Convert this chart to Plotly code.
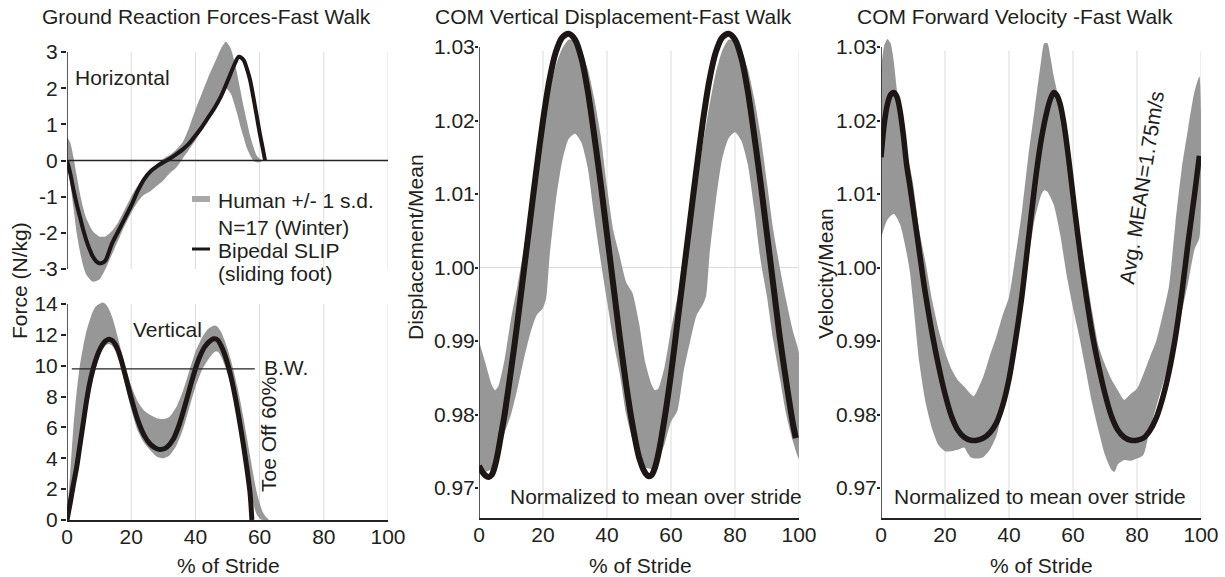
import plotly.graph_objects as go

# ---------------- data ----------------
# Horizontal GRF (N/kg) - model (Bipedal SLIP)
hgrf_pct = [0, 1, 2, 3, 4, 5, 6, 7, 8, 9, 10, 11, 12, 14, 16, 18, 20, 22, 24, 26, 28, 30, 32, 34, 36, 38,
            40, 42, 44, 46, 48, 50, 52, 53.5, 55, 56, 57, 58, 59, 60, 61, 61.7]
hgrf_model = [0, -0.35, -0.8, -1.2, -1.55, -1.9, -2.2, -2.45, -2.65, -2.78, -2.84, -2.83, -2.76, -2.3, -1.95,
              -1.6, -1.25, -0.85, -0.52, -0.3, -0.16, -0.05, 0.05, 0.17, 0.3, 0.47,
              0.69, 0.92, 1.19, 1.46, 1.78, 2.19, 2.62, 2.87, 2.78, 2.55, 2.24, 1.78, 1.28, 0.78, 0.33, 0]
# Horizontal GRF - human band (+/- 1 s.d.)
hband_pct = [0, 1, 2, 3, 4, 5, 6, 8, 10, 12, 14, 16, 18, 20, 22, 24, 26, 28, 30, 32, 34, 36, 38, 40, 42,
             44, 46, 48, 49.5, 51, 52, 53, 54, 55, 56, 57, 58, 59, 60, 61]
hband_lo = [0.0, -0.6, -1.3, -2.0, -2.5, -2.9, -3.15, -3.35, -3.3, -3.0, -2.6, -2.2, -1.8, -1.45, -1.15,
            -0.95, -0.85, -0.7, -0.55, -0.35, -0.2, 0.05, 0.3, 0.55, 0.85,
            1.15, 1.45, 1.75, 2.0, 1.85, 1.6, 1.3, 0.95, 0.65, 0.35, 0.15, 0.0, -0.05, -0.05, 0.0]
hband_hi = [0.65, 0.5, 0.1, -0.4, -0.9, -1.3, -1.6, -1.95, -2.1, -2.1, -1.95, -1.7, -1.35, -1.0, -0.7,
            -0.45, -0.25, -0.1, 0.05, 0.15, 0.3, 0.5, 0.9, 1.4, 1.85,
            2.3, 2.7, 3.1, 3.28, 3.1, 2.8, 2.4, 1.95, 1.5, 1.1, 0.7, 0.4, 0.15, 0.05, 0.0]

# Vertical GRF (N/kg) - model
vgrf_pct = [0, 1, 2, 3, 4, 5, 6, 7, 8, 9, 10, 11, 12, 13, 14, 15, 16, 17, 18, 19, 20, 22, 24, 26, 28, 29.5,
            31, 33, 35, 37, 39, 41, 43, 45, 46, 47, 48, 49, 50, 51, 52, 53, 54, 55, 56, 57, 57.6]
vgrf_model = [0, 1.1, 2.3, 3.4, 4.8, 6.2, 7.6, 8.8, 9.7, 10.4, 10.95, 11.35, 11.6, 11.72, 11.65, 11.4,
              10.95, 10.3, 9.5, 8.7, 7.9, 6.5, 5.5, 4.9, 4.62, 4.58,
              4.7, 5.2, 6.2, 7.6, 9.1, 10.4, 11.25, 11.68, 11.75, 11.65, 11.3, 10.8, 10.15, 9.35, 8.4,
              7.3, 6.1, 4.8, 3.4, 1.8, 0]
vband_pct = [0, 1, 2, 3, 4, 5, 6, 7, 8, 9, 10, 11, 12, 13, 14, 15, 16, 17, 18, 19, 20, 22, 24, 26, 28, 30,
             32, 34, 36, 38, 40, 42, 44, 46, 47, 48, 49, 50, 51, 52, 53, 54, 55, 56, 57, 58, 59, 60, 61,
             62, 63]
vband_lo = [0, 0.8, 2.0, 3.2, 4.5, 5.7, 6.9, 8.0, 9.0, 9.8, 10.5, 11.0, 11.3, 11.4, 11.3, 11.0, 10.4, 9.7,
            8.9, 8.0, 7.2, 5.8, 5.0, 4.5, 4.1, 4.0,
            4.2, 4.8, 5.8, 7.2, 8.6, 9.7, 10.4, 10.9, 10.9, 10.6, 10.1, 9.5, 8.8, 7.9, 6.9, 5.8, 4.6, 3.4,
            2.2, 1.1, 0.4, 0.1, 0, 0, 0]
vband_hi = [0, 3.0, 6.0, 8.3, 10.0, 11.2, 12.2, 12.9, 13.5, 13.85, 14.0, 14.1, 14.0, 13.7, 13.2, 12.5,
            11.7, 10.9, 10.1, 9.4, 8.7, 7.7, 7.1, 6.8, 6.6, 6.55,
            6.7, 7.3, 8.3, 9.6, 10.9, 11.8, 12.4, 12.6, 12.5, 12.2, 11.7, 11.1, 10.4, 9.6, 8.7, 7.7, 6.6,
            5.4, 4.2, 3.0, 1.9, 1.1, 0.5, 0.2, 0.0]
body_weight = 9.8

# COM vertical displacement / mean
disp_pct = [0, 1, 2, 3, 4, 5, 6, 7, 8, 10, 12, 14, 16, 18, 20, 22, 24, 26, 28, 30, 32, 34, 36, 38, 40,
            42, 44, 46, 48, 50, 52, 53, 54, 55, 56, 58, 60, 62, 64, 66, 68, 70, 72, 74, 76, 78, 80, 82,
            84, 86, 88, 90, 92, 94, 96, 98, 99]
disp_model = [0.9730, 0.9722, 0.9717, 0.9715, 0.9718, 0.9730, 0.9750, 0.9775, 0.9800, 0.9860, 0.9925,
              0.9995, 1.0065, 1.0135, 1.0200, 1.0255, 1.0293, 1.0313, 1.0318, 1.0310, 1.0285, 1.0240,
              1.0180, 1.0115, 1.0045, 0.9975, 0.9905, 0.9840, 0.9785, 0.9742, 0.9720, 0.9716, 0.9718,
              0.9728, 0.9745, 0.9795, 0.9855, 0.9925, 0.9995, 1.0065, 1.0135, 1.0200, 1.0255, 1.0293,
              1.0313, 1.0318, 1.0310, 1.0285, 1.0240, 1.0180, 1.0115, 1.0045, 0.9975, 0.9905, 0.9845,
              0.9790, 0.9768]
dband_pct = [0, 2, 4, 5, 6, 8, 10, 12, 14, 16, 18, 20, 21, 22, 24, 26, 28, 30, 32, 34, 36, 38, 40, 42, 44,
             46, 48, 50, 52, 54, 55, 56, 58, 60, 62, 64, 66, 68, 70, 71, 72, 74, 76, 78, 80, 82, 84, 86,
             88, 90, 92, 94, 96, 98, 100]
dband_lo = [0.9725, 0.9722, 0.9726, 0.9735, 0.9748, 0.9775, 0.9800, 0.9835, 0.9875, 0.9910, 0.9935,
            0.9945, 0.9958, 1.0012, 1.0090, 1.0145, 1.0175, 1.0182, 1.0170, 1.0135, 1.0070, 1.0010,
            0.9955, 0.9900, 0.9855, 0.9800, 0.9765, 0.9740, 0.9728, 0.9726, 0.9730, 0.9738, 0.9760,
            0.9790, 0.9805, 0.9860, 0.9900, 0.9935, 0.9950, 0.9962, 1.0015, 1.0090, 1.0148, 1.0176,
            1.0184, 1.0172, 1.0140, 1.0080, 1.0010, 0.9960, 0.9900, 0.9850, 0.9800, 0.9765, 0.9740]
dband_hi = [0.9900, 0.9870, 0.9840, 0.9833, 0.9838, 0.9875, 0.9930, 0.9975, 1.0025, 1.0080, 1.0140,
            1.0195, 1.0218, 1.0240, 1.0275, 1.0298, 1.0310, 1.0308, 1.0295, 1.0270, 1.0230, 1.0180,
            1.0110, 1.0050, 1.0015, 0.9980, 0.9965, 0.9925, 0.9870, 0.9840, 0.9833, 0.9835, 0.9865,
            0.9915, 0.9960, 1.0005, 1.0055, 1.0115, 1.0170, 1.0195, 1.0220, 1.0265, 1.0295, 1.0310,
            1.0308, 1.0295, 1.0270, 1.0230, 1.0180, 1.0115, 1.0050, 1.0000, 0.9955, 0.9915, 0.9883]

# COM forward velocity / mean
vel_pct = [0, 1, 2, 3, 4, 5, 6, 7, 8, 9, 10, 11, 12, 13, 14, 16, 18, 20, 22, 24, 26, 28, 30, 32, 34, 36,
           38, 40, 42, 44, 46, 48, 50, 52, 53, 54, 55, 56, 57, 58, 59, 60, 61, 62, 63, 64, 66, 68, 70,
           72, 74, 76, 78, 80, 82, 84, 86, 88, 90, 92, 94, 96, 98, 99.5]
vel_model = [1.0150, 1.0195, 1.0222, 1.0235, 1.0238, 1.0232, 1.0212, 1.0180, 1.0140, 1.0112, 1.0082,
             1.0052, 1.0021, 0.9990, 0.9961, 0.9910, 0.9866, 0.9828, 0.9798, 0.9779, 0.9769, 0.9765,
             0.9765, 0.9768, 0.9775, 0.9788, 0.9812, 0.9848, 0.9900, 0.9960, 1.0035, 1.0110, 1.0172,
             1.0215, 1.0230, 1.0238, 1.0234, 1.0222, 1.0200, 1.0170, 1.0135, 1.0098, 1.0062, 1.0028,
             0.9995, 0.9965, 0.9910, 0.9866, 0.9828, 0.9798, 0.9779, 0.9769, 0.9765, 0.9765, 0.9768,
             0.9778, 0.9795, 0.9822, 0.9858, 0.9905, 0.9965, 1.0035, 1.0100, 1.0152]
vband_up_pct = [0, 1, 2, 3, 4, 5, 6, 8, 10, 12, 14, 16, 18, 20, 22, 24, 26, 28, 29, 30, 32, 34, 36, 38,
                40, 42, 44, 46, 48, 50, 51, 52, 53, 54, 55, 56, 58, 60, 62, 64, 66, 68, 70, 72, 74, 76,
                78, 80, 82, 84, 86, 88, 90, 92, 94, 96, 98, 99.5]
vband_up = [1.0270, 1.0302, 1.0311, 1.0305, 1.0280, 1.0240, 1.0205, 1.0160, 1.0115, 1.0050, 1.0005,
            0.9955, 0.9915, 0.9885, 0.9862, 0.9847, 0.9838, 0.9828, 0.9825, 0.9832, 0.9852, 0.9880,
            0.9905, 0.9935, 0.9960, 1.0015, 1.0075, 1.0150, 1.0215, 1.0280, 1.0305, 1.0305, 1.0285,
            1.0260, 1.0240, 1.0215, 1.0165, 1.0110, 1.0050, 0.9995, 0.9940, 0.9893, 0.9868, 0.9848,
            0.9833, 0.9820, 0.9828, 0.9835, 0.9855, 0.9878, 0.9900, 0.9935, 0.9975, 1.0060, 1.0135,
            1.0190, 1.0240, 1.0260]
vband_low_pct = [0, 2, 4, 6, 8, 9, 10, 12, 14, 16, 18, 20, 22, 24, 26, 27, 28, 30, 32, 34, 36, 38, 40,
                 42, 44, 46, 48, 50, 51, 52, 54, 56, 58, 60, 62, 64, 66, 68, 70, 72, 73, 74, 76, 78, 80,
                 82, 84, 86, 88, 90, 92, 94, 96, 98, 99.5]
vband_low = [1.0040, 1.0065, 1.0073, 1.0058, 1.0020, 0.9995, 0.9955, 0.9870, 0.9815, 0.9780, 0.9758,
             0.9750, 0.9750, 0.9752, 0.9755, 0.9748, 0.9742, 0.9740, 0.9742, 0.9752, 0.9770, 0.9805,
             0.9850, 0.9900, 0.9955, 1.0010, 1.0065, 1.0098, 1.0105, 1.0103, 1.0085, 1.0045, 0.9990,
             0.9945, 0.9905, 0.9860, 0.9815, 0.9778, 0.9745, 0.9725, 0.9722, 0.9732, 0.9738, 0.9737,
             0.9740, 0.9745, 0.9780, 0.9810, 0.9840, 0.9870, 0.9900, 0.9940, 0.9980, 1.0025, 1.0040]

x_ticks = [0, 20, 40, 60, 80, 100]
grid_x = [20, 40, 60, 80, 100]
h_ticks = [-3, -2, -1, 0, 1, 2, 3]
v_ticks = [0, 2, 4, 6, 8, 10, 12, 14]
ratio_ticks = [0.97, 0.98, 0.99, 1.00, 1.01, 1.02, 1.03]

# ---------------- style ----------------
W, H = 1225, 577
FONT = "Liberation Sans, Arial, sans-serif"
TXT = "#231f20"
BAND = "#979797"
LINE = "#1c1616"
GRID = "#dcdcdc"


def px(x):
    return x / W


def py(y):
    return 1 - y / H


fig = go.Figure()


def band(xs_lo, lo, xs_hi, hi, xa, ya):
    fig.add_trace(go.Scatter(x=list(xs_hi) + list(xs_lo)[::-1], y=list(hi) + list(lo)[::-1],
                             fill="toself", fillcolor=BAND, mode="lines",
                             line=dict(width=0, color=BAND, shape="spline", smoothing=0.6),
                             xaxis=xa, yaxis=ya, hoverinfo="skip", showlegend=False))


def model(xs, ys, xa, ya, w):
    fig.add_trace(go.Scatter(x=xs, y=ys, mode="lines",
                             line=dict(width=w, color=LINE, shape="spline", smoothing=0.8),
                             xaxis=xa, yaxis=ya, hoverinfo="skip", showlegend=False))


band(hband_pct, hband_lo, hband_pct, hband_hi, "x", "y")
model(hgrf_pct, hgrf_model, "x", "y", 4)
band(vband_pct, vband_lo, vband_pct, vband_hi, "x2", "y2")
model(vgrf_pct, vgrf_model, "x2", "y2", 5)
band(dband_pct, dband_lo, dband_pct, dband_hi, "x3", "y3")
model(disp_pct, disp_model, "x3", "y3", 6)
band(vband_low_pct, vband_low, vband_up_pct, vband_up, "x4", "y4")
model(vel_pct, vel_model, "x4", "y4", 5.5)

# ---------------- axes ----------------
tickfont = dict(family=FONT, size=21, color=TXT)


def xax(dom, showlabels):
    return dict(domain=[px(dom[0]), px(dom[1])], range=[0, 100], showgrid=False, zeroline=False,
                tickmode="array", tickvals=x_ticks, ticktext=[str(t) for t in x_ticks],
                showticklabels=showlabels, ticks="", ticklabelstandoff=-3,
                tickfont=tickfont, automargin=False,
                showline=showlabels, linecolor="#222", linewidth=1.5, fixedrange=True)


def yax(top_px, bot_px, top_val, bot_val, tv, tt, anchor, tlen=4, standoff=-3):
    return dict(domain=[py(bot_px), py(top_px)], range=[bot_val, top_val], showgrid=False,
                zeroline=False, tickmode="array", tickvals=tv, ticktext=tt, ticks="outside",
                ticklen=tlen, tickwidth=1.5, tickcolor="#222", tickfont=tickfont, showline=False,
                ticklabelstandoff=standoff, anchor=anchor, fixedrange=True, automargin=False)


# pixel scales
h_per = (269 - 52) / 6.0
v_per = (520 - 304) / 14.0
r_per = (488 - 47) / 0.06

fig.update_layout(
    width=W, height=H, margin=dict(l=0, r=0, t=0, b=0, pad=0, autoexpand=False),
    paper_bgcolor="white", plot_bgcolor="rgba(0,0,0,0)", showlegend=False,
    xaxis=xax((67, 388), False),
    yaxis=yax(38, 290, 3 + (52 - 38) / h_per, -3 - (290 - 269) / h_per, h_ticks,
              [str(t) for t in h_ticks], "x", 5, -1),
    xaxis2=dict(xax((67, 388), True), anchor="y2"),
    yaxis2=yax(296, 520, 14 + (304 - 296) / v_per, 0, v_ticks, [str(t) for t in v_ticks], "x2", 5, -1),
    xaxis3=dict(xax((479, 799), True), anchor="y3"),
    yaxis3=yax(24, 518, 1.03 + (47 - 24) / r_per, 0.97 - (518 - 488) / r_per, ratio_ticks,
               ["%.2f" % t for t in ratio_ticks], "x3", 3, -4),
    xaxis4=dict(xax((881, 1201), True), anchor="y4"),
    yaxis4=yax(24, 518, 1.03 + (47 - 24) / r_per, 0.97 - (518 - 488) / r_per, ratio_ticks,
               ["%.2f" % t for t in ratio_ticks], "x4", 3, -4),
)

shapes = []
r_bottom = 0.97 - (518 - 488) / r_per
# grid lines
for g in grid_x:
    shapes.append(dict(type="line", xref="x", yref="y", x0=g, x1=g, y0=-3, y1=3,
                       line=dict(color=GRID, width=1), layer="below"))
    shapes.append(dict(type="line", xref="x2", yref="y2", x0=g, x1=g, y0=0, y1=14,
                       line=dict(color=GRID, width=1), layer="below"))
    shapes.append(dict(type="line", xref="x3", yref="y3", x0=g, x1=g, y0=r_bottom, y1=1.0295,
                       line=dict(color=GRID, width=1), layer="below"))
    shapes.append(dict(type="line", xref="x4", yref="y4", x0=g, x1=g, y0=r_bottom, y1=1.0295,
                       line=dict(color=GRID, width=1), layer="below"))
shapes.append(dict(type="line", xref="x3", yref="y3", x0=0, x1=100, y0=1.0, y1=1.0,
                   line=dict(color=GRID, width=1), layer="below"))
# y axis lines
shapes.append(dict(type="line", xref="x", yref="y", x0=0, x1=0, y0=-3, y1=3,
                   line=dict(color="#222", width=1.5)))
shapes.append(dict(type="line", xref="x2", yref="y2", x0=0, x1=0, y0=0, y1=14,
                   line=dict(color="#222", width=1.5)))
shapes.append(dict(type="line", xref="x3", yref="y3", x0=0, x1=0, y0=r_bottom, y1=1.03,
                   line=dict(color="#222", width=1.5)))
shapes.append(dict(type="line", xref="x4", yref="y4", x0=0, x1=0, y0=r_bottom, y1=1.03,
                   line=dict(color="#222", width=1.5)))
# zero line and body-weight line
shapes.append(dict(type="line", xref="x", yref="y", x0=0, x1=100, y0=0, y1=0,
                   line=dict(color="#222", width=1.3)))
shapes.append(dict(type="line", xref="x2", yref="y2", x0=1.5, x1=58.5, y0=body_weight, y1=body_weight,
                   line=dict(color="#222", width=1.3)))
# legend swatches
shapes.append(dict(type="line", xref="paper", yref="paper", x0=px(192), x1=px(210), y0=py(199),
                   y1=py(199), line=dict(color="#a8a8a8", width=6)))
shapes.append(dict(type="line", xref="paper", yref="paper", x0=px(192), x1=px(210), y0=py(249),
                   y1=py(249), line=dict(color=LINE, width=3)))
fig.update_layout(shapes=shapes)

ann = []


def text(t, x, y, size=21, xanchor="center", angle=0):
    ann.append(dict(text=t, x=px(x), y=py(y), xref="paper", yref="paper", showarrow=False,
                    xanchor=xanchor, yanchor="middle", textangle=angle,
                    font=dict(family=FONT, size=size, color=TXT)))


text("Ground Reaction Forces-Fast Walk", 206, 17, 21)
text("COM Vertical Displacement-Fast Walk", 613, 17, 21)
text("COM Forward Velocity -Fast Walk", 1015, 17, 21)
text("Horizontal", 122, 78)
text("Human +/- 1 s.d.", 216, 201, xanchor="left")
text("N=17 (Winter)", 216, 227, xanchor="left")
text("Bipedal SLIP", 216, 250, xanchor="left")
text("(sliding foot)", 216, 273, xanchor="left")
text("Vertical", 167, 329)
text("B.W.", 262, 367, xanchor="left")
text("Toe Off 60%", 268, 435, angle=-90)
text("Force (N/kg)", 19, 281, angle=-90)
text("Displacement/Mean", 416, 247, angle=-90)
text("Velocity/Mean", 825, 274, angle=-90)
text("% of Stride", 228, 565)
text("% of Stride", 640, 565)
text("% of Stride", 1041, 565)
text("Normalized to mean over stride", 656, 497)
text("Normalized to mean over stride", 1040, 497)
text("Avg. MEAN=1.75m/s", 1141, 188, angle=-81)
fig.update_layout(annotations=ann)

fig.write_html("out.html", config={"responsive": False, "displayModeBar": False},
               post_script="document.body.style.margin='0';document.body.style.overflow='hidden';")
